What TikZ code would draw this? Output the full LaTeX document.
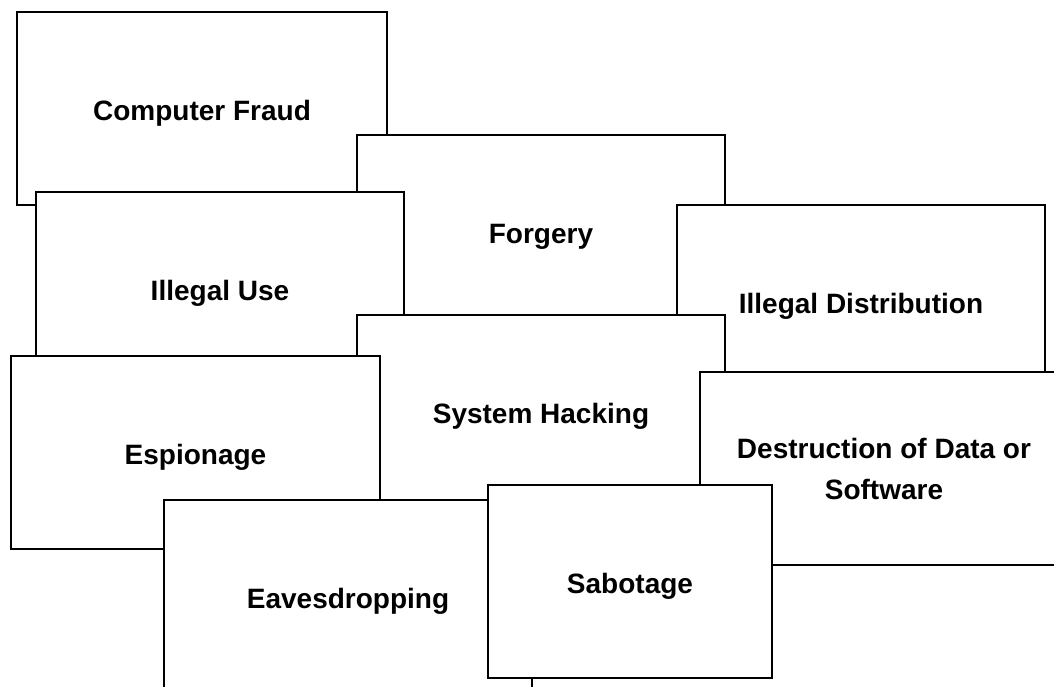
\documentclass[tikz,border=0pt]{standalone}
\usepackage{fontspec}
\setmainfont{Liberation Sans}
\begin{document}
\begin{tikzpicture}[x=1pt,y=-1pt,
  card/.style={draw=black,fill=white,line width=1.6pt,minimum width=368pt,minimum height=193pt,
    inner sep=0pt,font=\fontsize{28}{41}\selectfont\bfseries},
  oneline/.style={text height=23pt,text depth=0pt}]
\useasboundingbox (0,0) rectangle (1054,686);
\clip (0,0) rectangle (1054,686);
\node[card,oneline,minimum width=370pt] (fraud) at (202,108.5) {Computer Fraud};
\node[card,oneline] (forgery) at (541,231.5) {Forgery};
\node[card,oneline] (use) at (220,288.5) {Illegal Use};
\node[card,oneline] (dist) at (861,301.5) {Illegal Distribution};
\node[card,oneline] (hack) at (541,411.5) {System Hacking};
\node[card,oneline,minimum width=369pt] (esp) at (195.5,452.5) {Espionage};
\node[card,align=center] (destr) at (884,468.5) {Destruction of Data or\\Software};
\node[card,oneline] (eaves) at (348,596.5) {Eavesdropping};
\node[card,oneline,minimum width=284pt] (sab) at (630,581.5) {Sabotage};
\end{tikzpicture}
\end{document}
